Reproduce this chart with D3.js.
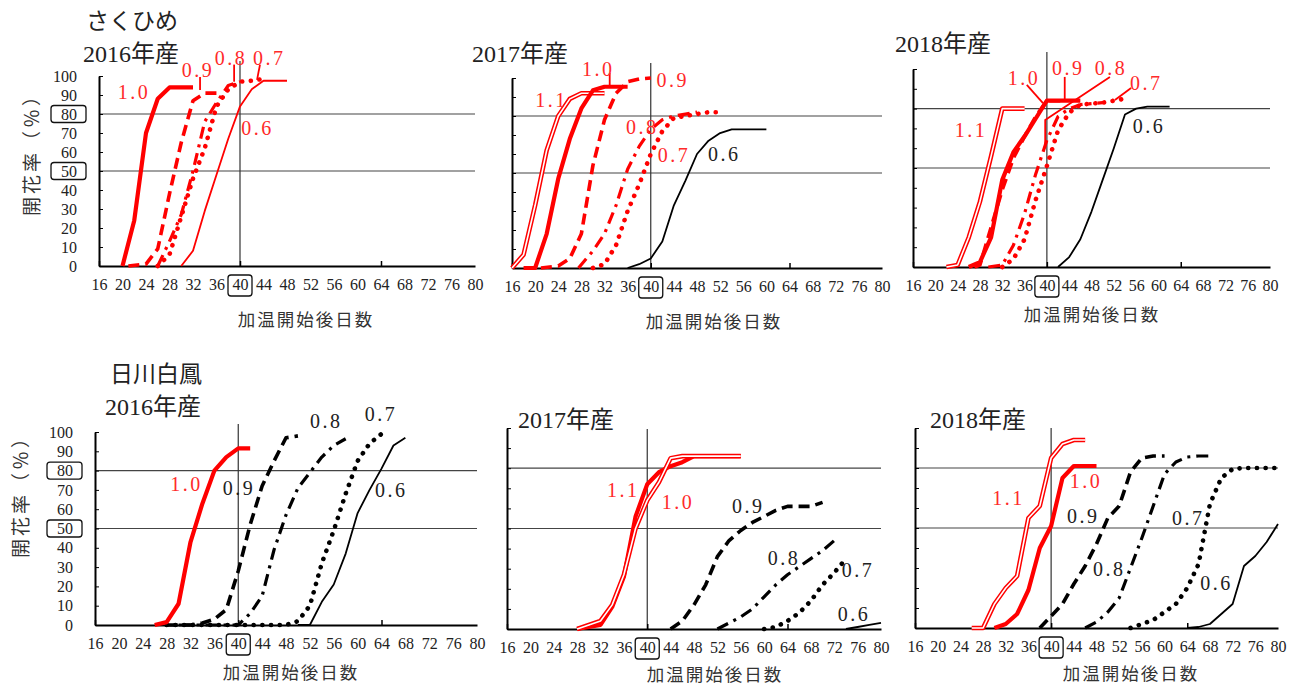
<!DOCTYPE html>
<html>
<head>
<meta charset="utf-8">
<script src="https://cdn.jsdelivr.net/npm/d3@7"></script>
<style>
  body { margin: 0; background: #fff; }
</style>
</head>
<body>
<svg id="chart" width="1301" height="687"></svg>
<script>
"use strict";

// x values: days after start of heating, y values: flowering rate (%)
var xTicks = d3.range(16, 81, 4);
var yTicks = d3.range(0, 101, 10);
var majorX = [16, 40, 64];
var boxedY = [80, 50];

// さくひめ 2016
var s16_10 = [[20,0],[22,24],[24,70],[26,88],[28,94],[30,94],[32,94]];
var s16_09 = [[21,0],[24,1],[26,9],[28,38],[30,65],[32,87],[34,91],[36,91],[37,91]];
var s16_08 = [[26,0],[28,13],[30,27],[32,50],[34,76],[36,86],[38,95],[40,97]];
var s16_07 = [[26,0],[28,6],[30,26],[32,46],[34,62],[36,84],[38,93],[40,97],[42,97.5],[44,98.5]];
var s16_06 = [[30,0],[32,8],[34,29],[36,48],[38,67],[40,84],[42,93],[44,97.5],[46,97.5],[48,97.5]];

// さくひめ 2017
var s17_11 = [[16,0],[18,7],[20,33],[22,62],[24,80],[26,89],[28,92],[30,92],[32,92]];
var s17_10 = [[18,0],[20,0],[22,18],[24,47],[26,68],[28,84],[30,93.5],[32,95.4],[34,95.4],[36,95.4]];
var s17_09 = [[21,0],[24,1],[26,5],[28,18],[30,54],[32,78],[34,92],[36,98],[38,99.5],[40,100]];
var s17_08 = [[27.5,0],[30,9],[32,18],[34,33],[36,52],[38,64],[40,73],[42,78],[44,80],[46,81],[48,82]];
var s17_07 = [[30,0],[32,2],[34,12],[36,30],[38,44],[40,60],[42,72],[44,79],[46,80],[48,81],[50,82],[52,82]];
var s17_06 = [[36,0],[38,2],[40,5],[42,14],[44,33],[46,46],[48,60],[50,67],[52,71],[54,73],[56,73],[58,73],[60,73]];

// さくひめ 2018
var s18_11 = [[22,0],[24,1],[26,15],[28,33],[30,56],[32,80],[34,80],[36,80]];
var s18_10 = [[26,0],[28,2.5],[30,15],[32,44],[34,58],[36,66],[38,75],[40,84],[42,84],[44,84],[46,84]];
var s18_09 = [[27,0],[28,1],[30,20],[32,39],[34,55],[36,66],[38,76],[40,84],[42,84],[43,84]];
var s18_08 = [[29.5,0],[32,1],[34,11],[36,27],[38,47],[40,64],[42,76],[44,80],[46,82],[48,82.5],[50,83]];
var s18_07 = [[32,0],[34,4],[36,14],[38,34],[40,51],[42,69],[44,78],[46,82],[48,82.5],[50,83],[52,84],[54,85]];
var s18_06 = [[42,0],[44,5],[46,14],[48,28],[50,44],[52,60],[54,77],[56,80],[58,81],[60,81],[62,81]];

// 日川白鳳 2016
var h16_10 = [[26,0],[28,1.5],[30,11],[32,43],[34,63],[36,80],[38,87],[40,91.5],[42,91.5]];
var h16_09 = [[28,0],[32,0],[34,1],[36,3],[38,8],[40,28],[42,52],[44,72],[46,85],[48,97],[50,98]];
var h16_08 = [[30,0],[40,0],[42,6],[44,15],[46,39],[48,57],[50,71],[52,79],[54,87],[56,93],[58,96.5]];
var h16_07 = [[28,0],[48,0],[50,2],[52,10],[54,32],[56,49],[58,68],[60,85],[62,94],[64,99]];
var h16_06 = [[50,0],[52,0],[54,12],[56,21],[58,37],[60,58],[62,70],[64,81],[66,93],[68,97]];

// 日川白鳳 2017
var h17_11 = [[28,0],[30,2],[32,4],[34,12],[36,27],[38,50],[40,64],[42,73],[44,85],[46,86],[48,86],[50,86],[52,86],[54,86],[56,86]];
var h17_10 = [[28,0],[30,1],[32,2],[34,11],[36,26],[38,56],[40,72],[42,78],[44,81],[46,83],[48,86],[50,86],[52,86],[54,86],[56,86]];
var h17_09 = [[44,0],[46,4],[48,12],[50,22],[52,36],[54,44],[56,49],[58,53],[60,56],[62,59],[64,61],[66,61],[68,61],[70,63]];
var h17_08 = [[52,0],[54,3],[56,6],[58,10],[60,16],[62,22],[64,27],[66,31],[68,35],[70,39],[72,44]];
var h17_07 = [[60,0],[62,1],[64,4],[66,8],[68,14],[70,22],[72,28],[74,35]];
var h17_06 = [[74,0],[76,1],[78,2],[80,3]];

// 日川白鳳 2018
var h18_11 = [[26,0],[28,0],[30,12],[32,20],[34,26],[36,55],[38,61],[40,85],[42,92],[44,94],[46,94]];
var h18_10 = [[30,0],[32,2],[34,7],[36,19],[38,40],[40,51],[42,75],[44,81],[46,81],[48,81]];
var h18_09 = [[38,0],[40,6],[42,12],[44,22],[46,31],[48,42],[50,55],[52,61],[54,78],[56,85],[58,86],[60,86]];
var h18_08 = [[46,0],[48,3],[50,8],[52,15],[54,30],[56,45],[58,61],[60,77],[62,83],[64,85.5],[66,86],[68,86]];
var h18_07 = [[54,0],[56,2],[58,4],[60,8],[62,12],[64,20],[66,32],[68,62],[70,75],[72,79.5],[74,80],[76,80],[78,80],[80,80]];
var h18_06 = [[64,0],[66,0.5],[68,2],[70,7],[72,12],[74,31],[76,36],[78,43],[80,52]];

var RED = "#ff0000", BLK = "#000000";
var SERIF = "'Liberation Serif','DejaVu Serif','Noto Sans CJK JP',serif";
var CJK = "'Noto Sans CJK JP','Noto Sans',sans-serif";

var styleOf = {
  "1.1": { w: 4.6, inner: 1.6 },
  "1.0": { w: 4.2 },
  "0.9": { w: 3.6, dash: "11,6" },
  "0.8": { w: 3.2, dash: "12,6,3,6" },
  "0.7": { w: 4.6, dash: "0.1,8.6", cap: "round" },
  "0.6": { w: 1.8 }
};

// panel layout; label positions and leaders are given in data units
var panels = [
  { x0: 99, x1: 475, y0: 266, y1: 76, vTop: 61, yLabels: true,
    titles: [["さくひめ", 86, 29, CJK, 23], ["2016年産", 83, 62, SERIF, 24]],
    yTitle: [30, 150], xTitle: [306, 318],
    series: [
      { key: "0.6", data: s16_06, color: RED, lab: [40.2, 72.6] },
      { key: "0.7", data: s16_07, color: RED, lab: [42.2, 109.5], leader: [[43.4, 106], [42.9, 98]] },
      { key: "0.8", data: s16_08, color: RED, lab: [35.7, 109.5], leader: [[39, 106], [39, 97]] },
      { key: "0.9", data: s16_09, color: RED, lab: [30.1, 103], leader: [[33.2, 99.5], [33.2, 92.6]] },
      { key: "1.0", data: s16_10, color: RED, lab: [19.2, 91.6] }
    ] },
  { x0: 512, x1: 882, y0: 268, y1: 78, vTop: 63, yLabels: false,
    titles: [["2017年産", 472, 62, SERIF, 24]],
    xTitle: [714, 320],
    series: [
      { key: "0.6", data: s17_06, color: BLK, lab: [49.9, 60] },
      { key: "0.7", data: s17_07, color: RED, lab: [41.2, 59.5] },
      { key: "0.8", data: s17_08, color: RED, lab: [35.7, 74.2] },
      { key: "0.9", data: s17_09, color: RED, lab: [41, 99] },
      { key: "1.1", data: s17_11, color: RED, lab: [20, 88.4] },
      { key: "1.0", data: s17_10, color: RED, lab: [28.1, 105], leader: [[32.9, 102.6], [32.9, 95.8]] }
    ] },
  { x0: 913, x1: 1270, y0: 267, y1: 69, vTop: 52, yLabels: false,
    titles: [["2018年産", 895, 52, SERIF, 24]],
    xTitle: [1092, 313],
    series: [
      { key: "0.6", data: s18_06, color: BLK, lab: [55.4, 71.2] },
      { key: "0.7", data: s18_07, color: RED, lab: [54.9, 93], leader: [[55.1, 90.4], [52.2, 84.3]] },
      { key: "0.8", data: s18_08, color: RED, lab: [48.6, 100.5], leader: [[51.3, 96], [39.7, 74.2], [39.7, 60]] },
      { key: "0.9", data: s18_09, color: RED, lab: [40.9, 100.5], leader: [[43.2, 96], [43.2, 84.3]] },
      { key: "1.0", data: s18_10, color: RED, lab: [33, 95.5], leader: [[36.4, 92], [39.3, 82.8]] },
      { key: "1.1", data: s18_11, color: RED, lab: [23.5, 69.2] }
    ] },
  { x0: 95, x1: 477, y0: 625, y1: 432, vTop: 424, yLabels: true,
    titles: [["日川白鳳", 110, 382, CJK, 23], ["2016年産", 105, 415, SERIF, 24]],
    yTitle: [19, 492], xTitle: [291, 671],
    series: [
      { key: "0.6", data: h16_06, color: BLK, lab: [62.9, 70] },
      { key: "0.7", data: h16_07, color: BLK, lab: [61.2, 109.3] },
      { key: "0.8", data: h16_08, color: BLK, lab: [52, 105.7] },
      { key: "0.9", data: h16_09, color: BLK, lab: [37.4, 71] },
      { key: "1.0", data: h16_10, color: RED, lab: [28.6, 73] }
    ] },
  { x0: 507, x1: 881, y0: 629, y1: 428, vTop: 429, yLabels: false,
    titles: [["2017年産", 518, 428, SERIF, 24]],
    xTitle: [715, 673],
    series: [
      { key: "0.6", data: h17_06, color: BLK, lab: [72.6, 7.3] },
      { key: "0.7", data: h17_07, color: BLK, lab: [73.3, 29.2] },
      { key: "0.8", data: h17_08, color: BLK, lab: [60.6, 35.2] },
      { key: "0.9", data: h17_09, color: BLK, lab: [54.5, 61] },
      { key: "1.0", data: h17_10, color: RED, lab: [42.5, 63] },
      { key: "1.1", data: h17_11, color: RED, lab: [33.1, 69.1] }
    ] },
  { x0: 915, x1: 1278, y0: 628, y1: 428, vTop: 428, yLabels: false,
    titles: [["2018年産", 930, 428, SERIF, 24]],
    xTitle: [1131, 672],
    series: [
      { key: "0.6", data: h18_06, color: BLK, lab: [66.3, 22.5] },
      { key: "0.7", data: h18_07, color: BLK, lab: [61.3, 55] },
      { key: "0.8", data: h18_08, color: BLK, lab: [47.4, 29.5] },
      { key: "0.9", data: h18_09, color: BLK, lab: [42.8, 56] },
      { key: "1.0", data: h18_10, color: RED, lab: [43.3, 73.5] },
      { key: "1.1", data: h18_11, color: RED, lab: [29.6, 65] }
    ] }
];

var svg = d3.select("#chart");

panels.forEach(function(p) {
  var g = svg.append("g");
  var x = d3.scaleLinear().domain([16, 80]).range([p.x0, p.x1]);
  var y = d3.scaleLinear().domain([0, 100]).range([p.y0, p.y1]);

  // 80% / 50% reference lines
  g.selectAll(".grid").data(boxedY).join("line")
    .attr("x1", p.x0).attr("x2", p.x1)
    .attr("y1", function(d) { return y(d); }).attr("y2", function(d) { return y(d); })
    .attr("stroke", "#444").attr("stroke-width", 1.2);

  // day 40 line
  g.append("line")
    .attr("x1", x(40)).attr("x2", x(40)).attr("y1", p.vTop).attr("y2", y(0))
    .attr("stroke", "#333").attr("stroke-width", 1.2);

  // x axis
  var xa = g.append("g").attr("transform", "translate(0," + y(0) + ")")
    .call(d3.axisBottom(x).tickValues(xTicks).tickSize(0).tickPadding(13));
  xa.attr("font-family", SERIF).attr("font-size", 16);
  xa.select(".domain").attr("stroke-width", 2);
  xa.selectAll("text").attr("fill", "#222");

  var xm = g.append("g").attr("transform", "translate(0," + y(0) + ")")
    .call(d3.axisBottom(x).tickValues(majorX).tickSizeInner(-5).tickSizeOuter(0).tickFormat(""));
  xm.select(".domain").remove();
  xm.selectAll("line").attr("stroke-width", 1.5);

  g.append("rect")
    .attr("x", x(40) - 12).attr("y", y(0) + 9).attr("width", 24).attr("height", 21)
    .attr("rx", 3).attr("fill", "none").attr("stroke", "#111").attr("stroke-width", 1.3);

  // y axis
  var ya = g.append("g").attr("transform", "translate(" + p.x0 + ",0)")
    .call(d3.axisLeft(y).tickValues(yTicks).tickSizeInner(-4).tickSizeOuter(0).tickPadding(22)
      .tickFormat(p.yLabels ? d3.format("d") : ""));
  ya.attr("font-family", SERIF).attr("font-size", 16);
  ya.select(".domain").attr("stroke-width", 2);
  ya.selectAll("text").attr("fill", "#222");

  if (p.yLabels) {
    g.selectAll(".ybox").data(boxedY).join("rect")
      .attr("x", p.x0 - 48).attr("y", function(d) { return y(d) - 8.5; })
      .attr("width", 35).attr("height", 17).attr("rx", 3)
      .attr("fill", "none").attr("stroke", "#111").attr("stroke-width", 1.3);
    g.append("text")
      .attr("transform", "translate(" + p.yTitle[0] + "," + p.yTitle[1] + ") rotate(-90)")
      .attr("text-anchor", "middle").attr("dominant-baseline", "central")
      .attr("font-family", CJK).attr("font-size", 19).attr("letter-spacing", 3).attr("fill", "#333")
      .text("開花率（％）");
  }

  g.append("text")
    .attr("x", p.xTitle[0]).attr("y", p.xTitle[1])
    .attr("text-anchor", "middle").attr("dominant-baseline", "central")
    .attr("font-family", CJK).attr("font-size", 17.5).attr("letter-spacing", 2).attr("fill", "#333")
    .text("加温開始後日数");

  p.titles.forEach(function(t) {
    g.append("text").attr("x", t[1]).attr("y", t[2])
      .attr("font-family", t[3]).attr("font-size", t[4]).attr("fill", "#222")
      .text(t[0]);
  });

  // series
  var line = d3.line().x(function(d) { return x(d[0]); }).y(function(d) { return y(d[1]); });
  p.series.forEach(function(s) {
    var st = styleOf[s.key];
    g.append("path").datum(s.data).attr("d", line)
      .attr("fill", "none").attr("stroke", s.color).attr("stroke-width", st.w)
      .attr("stroke-dasharray", st.dash || null)
      .attr("stroke-linecap", st.cap || "butt").attr("stroke-linejoin", "round");
    if (st.inner) {
      g.append("path").datum(s.data).attr("d", line)
        .attr("fill", "none").attr("stroke", "#fff").attr("stroke-width", st.inner)
        .attr("stroke-linejoin", "round");
    }
  });

  // series labels
  p.series.forEach(function(s) {
    if (s.leader) {
      g.append("path").datum(s.leader).attr("d", line)
        .attr("fill", "none").attr("stroke", s.color).attr("stroke-width", 1.8);
    }
    g.append("text")
      .attr("x", x(s.lab[0])).attr("y", y(s.lab[1]))
      .attr("dominant-baseline", "central")
      .attr("font-family", SERIF).attr("font-size", 20).attr("letter-spacing", 2.5)
      .attr("fill", s.color === RED ? "#ff2a2a" : "#222")
      .text(s.key);
  });
});
</script>
</body>
</html>
